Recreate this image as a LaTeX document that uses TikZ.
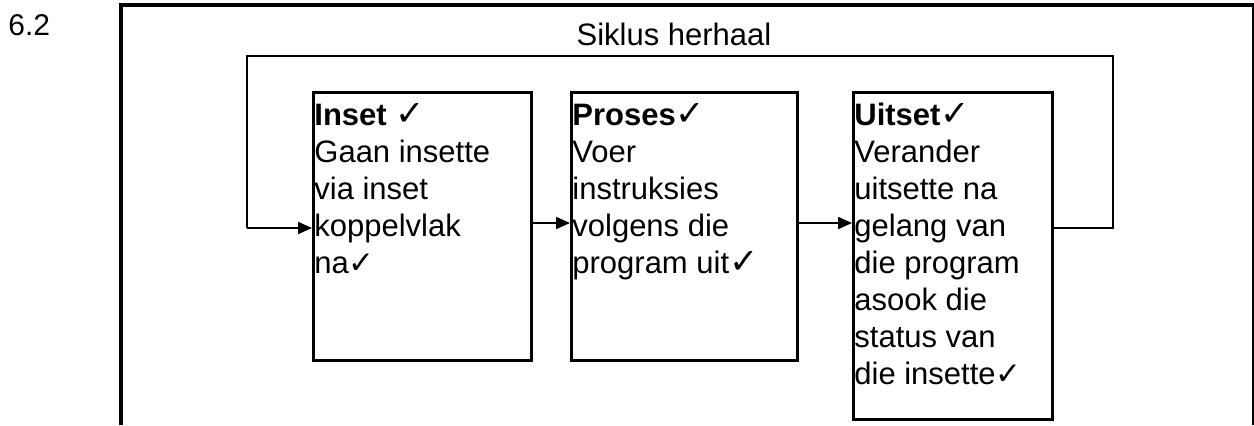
\documentclass[tikz,border=0pt]{standalone}
\usepackage{fontspec}
\setmainfont{Liberation Sans}
\newfontfamily\symf{DejaVu Sans}
\usetikzlibrary{arrows.meta}
\newcommand{\ck}{{\symf ✓}}
\newcommand{\ckb}{{\symf\fontsize{17.5}{18.5}\selectfont ✓}}
\begin{document}
\begin{tikzpicture}[x=0.5pt,y=-0.5pt,
  frame/.style={line width=1.8pt},
  thinframe/.style={line width=0.75pt},
  loopline/.style={line width=1pt},
  box/.style={draw, line width=1.25pt, inner sep=0pt, anchor=north west},
  arr/.style={line width=1pt, -{Triangle[length=7pt,width=6pt]}},
  txt/.style={inner sep=0pt, anchor=base west, align=left, font=\fontsize{15.5}{18.5}\selectfont},
  lbl/.style={inner sep=0pt, font=\fontsize{15}{18}\selectfont}]
\useasboundingbox (0,0) rectangle (1254,425);
% outer frame
\draw[frame] (121,425) -- (121,5) -- (1256,5);
\draw[thinframe] (1253,5) -- (1253,425);
\node[lbl, anchor=base west] (num) at (8,35) {6.2};
% boxes
\node[box, minimum width=109pt, minimum height=134pt] (b1) at (312,91) {};
\node[box, minimum width=113pt, minimum height=134pt] (b2) at (570,91) {};
\node[box, minimum width=99.5pt, minimum height=163.5pt] (b3) at (852,91) {};
% texts
\node[txt, anchor=north west] (t1) at (314,103) {\textbf{Inset} \ckb\\Gaan insette\\via inset\\koppelvlak\\na\ck};
\node[txt, anchor=north west] (t2) at (572,103) {\textbf{Proses}\ckb\\Voer\\instruksies\\volgens die\\program uit\ckb};
\node[txt, anchor=north west] (t3) at (854,103) {\textbf{Uitset}\ckb\\Verander\\uitsette na\\gelang van\\die program\\asook die\\status van\\die insette\ck};
% loop
\coordinate (l1) at (247,228);
\coordinate (l2) at (247,56);
\coordinate (r2) at (1113,56);
\coordinate (r1) at (1113,228);
\draw[loopline] (r1 -| b3.east) -- (r1) -- (r2) -- (l2) -- (l1);
\draw[arr] (l1) -- (l1 -| b1.west);
\node[txt, anchor=base] (sk) at (674,45) {Siklus herhaal};
% arrows between boxes
\coordinate (a1) at (530,223);
\draw[arr] (a1 -| b1.east) -- (a1 -| b2.west);
\draw[arr] (a1 -| b2.east) -- (a1 -| b3.west);
\end{tikzpicture}
\end{document}
